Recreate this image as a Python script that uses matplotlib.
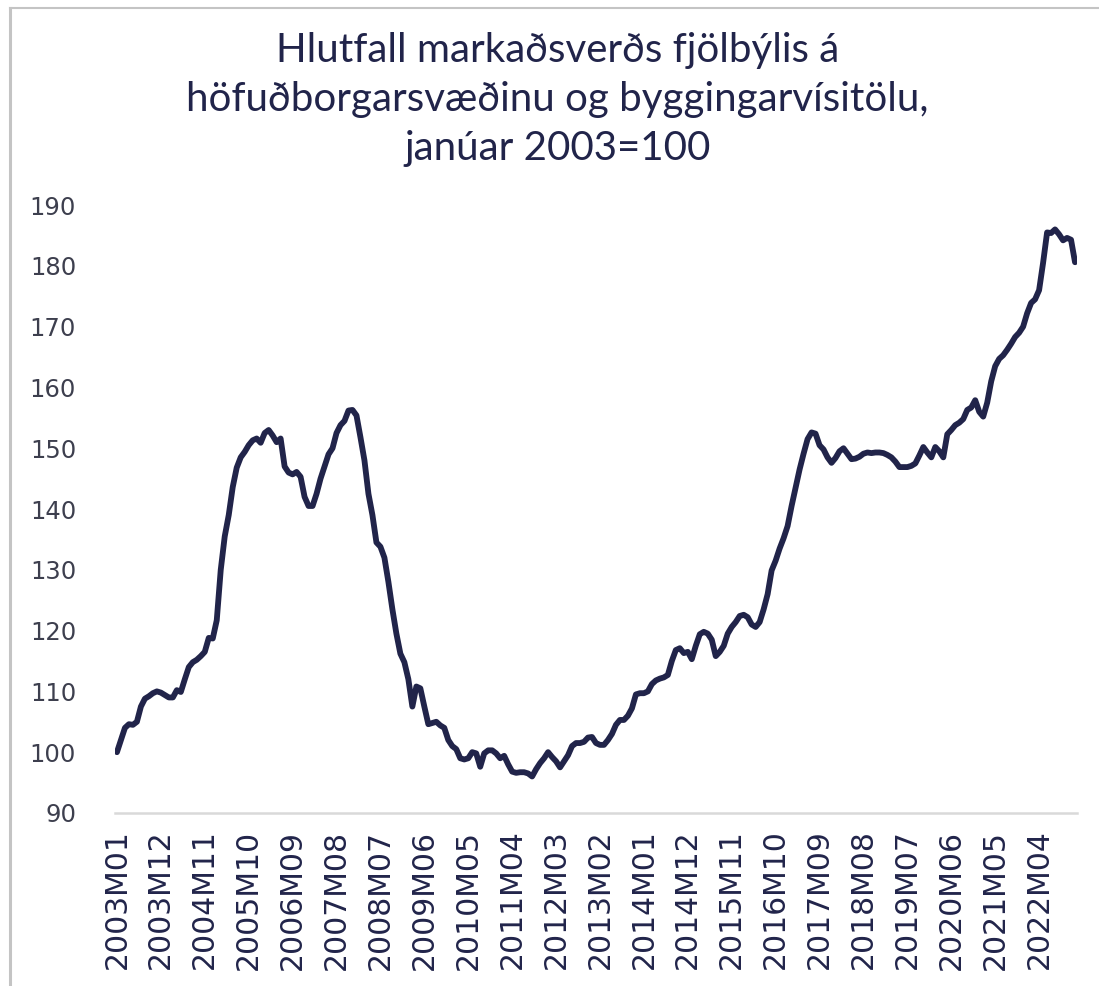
import matplotlib
matplotlib.use("Agg")
import matplotlib.pyplot as plt
from matplotlib.lines import Line2D
import pandas as pd

title_lines = ["Hlutfall markaðsverðs fjölbýlis á",
               "höfuðborgarsvæðinu og byggingarvísitölu,",
               "janúar 2003=100"]

months = [p.strftime("%YM%m") for p in pd.period_range("2003-01", "2023-01", freq="M")]

values = [
    100.0, 102.0, 104.0, 104.6, 104.5, 105.0, 107.5, 108.8, 109.2, 109.7,
    110.0, 109.8, 109.4, 109.0, 109.0, 110.2, 109.9, 112.0, 114.0, 114.8,
    115.2, 115.8, 116.5, 118.8, 118.7, 121.7, 130.0, 135.5, 139.0, 143.6,
    146.8, 148.5, 149.4, 150.5, 151.3, 151.6, 150.9, 152.5, 153.0, 152.1,
    151.0, 151.6, 147.0, 146.0, 145.7, 146.1, 145.3, 142.0, 140.5, 140.5,
    142.5, 145.0, 147.0, 149.0, 150.0, 152.5, 153.8, 154.5, 156.2, 156.3,
    155.4, 151.8, 148.0, 142.5, 139.0, 134.5, 133.8, 132.0, 128.0, 123.5,
    119.5, 116.2, 114.8, 112.0, 107.5, 110.8, 110.5, 107.5, 104.6, 104.8,
    105.0, 104.4, 104.0, 102.0, 101.0, 100.5, 99.0, 98.8, 99.0, 100.0,
    99.8, 97.6, 99.8, 100.3, 100.3, 99.8, 99.0, 99.4, 98.0, 96.8,
    96.6, 96.7, 96.7, 96.5, 96.0, 97.2, 98.2, 99.0, 100.0, 99.2,
    98.5, 97.5, 98.5, 99.5, 101.0, 101.5, 101.5, 101.7, 102.4, 102.5,
    101.5, 101.2, 101.2, 102.0, 103.0, 104.5, 105.3, 105.3, 106.0, 107.2,
    109.5, 109.7, 109.7, 110.0, 111.2, 111.8, 112.1, 112.3, 112.7, 115.0,
    116.8, 117.1, 116.3, 116.5, 115.3, 117.5, 119.4, 119.8, 119.5, 118.5,
    115.8, 116.5, 117.5, 119.5, 120.6, 121.4, 122.4, 122.6, 122.2, 121.0,
    120.6, 121.4, 123.5, 126.0, 129.9, 131.5, 133.5, 135.2, 137.2, 140.5,
    143.5, 146.5, 149.1, 151.5, 152.6, 152.4, 150.5, 149.8, 148.5, 147.6,
    148.4, 149.5, 150.0, 149.1, 148.2, 148.3, 148.6, 149.1, 149.3, 149.2,
    149.3, 149.3, 149.2, 148.9, 148.5, 147.8, 146.9, 146.9, 146.9, 147.1,
    147.5, 148.8, 150.2, 149.3, 148.5, 150.2, 149.5, 148.5, 152.3, 153.0,
    153.8, 154.2, 154.8, 156.3, 156.7, 157.9, 156.0, 155.2, 157.5, 161.0,
    163.5, 164.7, 165.3, 166.2, 167.2, 168.3, 169.0, 170.0, 172.2, 173.9,
    174.5, 176.0, 180.5, 185.5, 185.4, 186.0, 185.2, 184.2, 184.6, 184.3,
    180.6,
]

tick_labels = ["2003M01", "2003M12", "2004M11", "2005M10", "2006M09", "2007M08",
               "2008M07", "2009M06", "2010M05", "2011M04", "2012M03", "2013M02",
               "2014M01", "2014M12", "2015M11", "2016M10", "2017M09", "2018M08",
               "2019M07", "2020M06", "2021M05", "2022M04"]
y_ticks = [90, 100, 110, 120, 130, 140, 150, 160, 170, 180, 190]

navy = "#21244a"

fig = plt.figure(figsize=(10.99, 9.86), dpi=100)
ax = fig.add_axes([0.1046, 0.1755, 0.8754, 0.6165])

x = list(range(len(months)))
ax.plot(x, values, color=navy, lw=4.2, solid_joinstyle="round", solid_capstyle="round")

ax.set_xlim(-0.5, len(months) - 0.5)
ax.set_ylim(90, 190)
ax.set_yticks(y_ticks)
ax.set_yticklabels([str(v) for v in y_ticks], fontsize=17.5, color="#3d3f4e",
                   family="DejaVu Sans")
pos = [months.index(l) for l in tick_labels]
ax.set_xticks(pos)
ax.set_xticklabels(tick_labels, rotation=90, fontsize=21.5, color=navy,
                   family="DejaVu Sans")
ax.tick_params(axis="both", length=0)
ax.tick_params(axis="y", pad=28)
ax.tick_params(axis="x", pad=12)
for s in ["top", "right", "left"]:
    ax.spines[s].set_visible(False)
ax.spines["bottom"].set_color("#d9d9d9")
ax.spines["bottom"].set_linewidth(1.8)

for k, line in enumerate(title_lines):
    fig.text(0.507, 0.949 - k * 0.0497, line, ha="center", va="center",
             fontsize=29, color=navy, family="Lato")

# screenshot border
fig.add_artist(Line2D([0.0095, 0.0095], [0, 0.992], transform=fig.transFigure,
                      color="#c4c4c4", lw=2.2))
fig.add_artist(Line2D([0.0095, 1.0], [0.992, 0.992], transform=fig.transFigure,
                      color="#c4c4c4", lw=1.5))

fig.savefig("out.png", dpi=100, facecolor="white")
